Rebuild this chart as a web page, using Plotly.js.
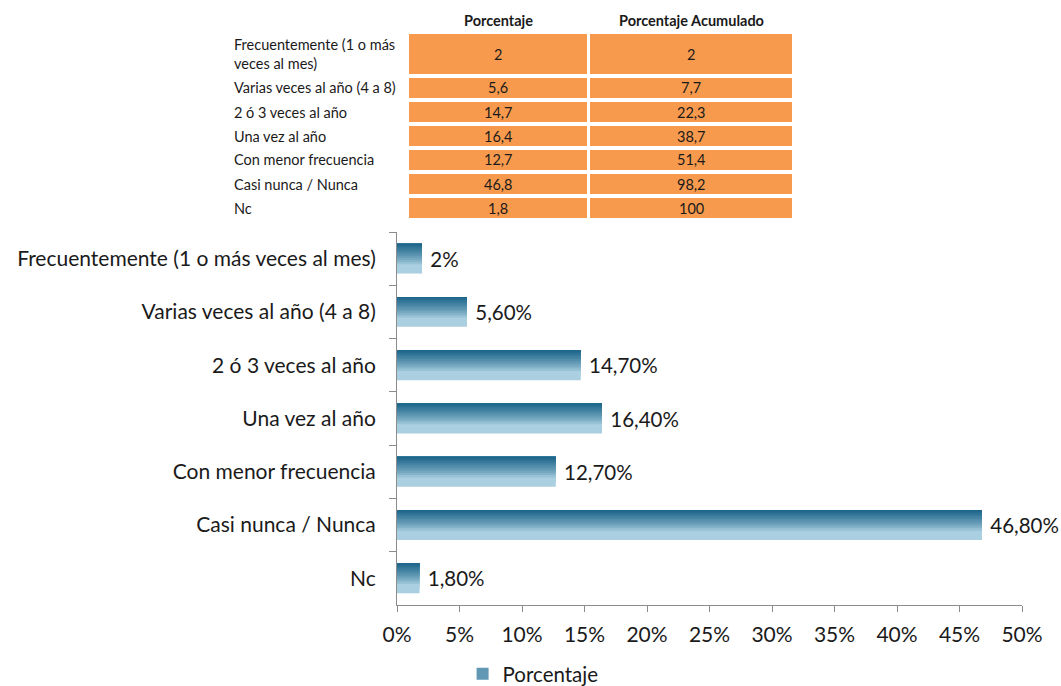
<!DOCTYPE html>
<html>
<head>
<meta charset="utf-8">
<script src="https://cdn.plot.ly/plotly-3.0.1.min.js"></script>
<style>html,body{margin:0;padding:0;background:#fff;}#chart{width:1061px;height:686px;}</style>
</head>
<body>
<div id="chart"></div>
<script>
// ---- Data ----
var categories = ["Frecuentemente (1 o más veces al mes)", "Varias veces al año (4 a 8)", "2 ó 3 veces al año", "Una vez al año", "Con menor frecuencia", "Casi nunca / Nunca", "Nc"];
var tableRowLabels = ["Frecuentemente (1 o más<br>veces al mes)", "Varias veces al año (4 a 8)", "2 ó 3 veces al año", "Una vez al año", "Con menor frecuencia", "Casi nunca / Nunca", "Nc"];
var porcentaje = [2, 5.6, 14.7, 16.4, 12.7, 46.8, 1.8];
var porcentajeTexto = ["2", "5,6", "14,7", "16,4", "12,7", "46,8", "1,8"];
var acumuladoTexto = ["2", "7,7", "22,3", "38,7", "51,4", "98,2", "100"];
var barLabels = ["2%", "5,60%", "14,70%", "16,40%", "12,70%", "46,80%", "1,80%"];
var tableHeaders = ["Porcentaje", "Porcentaje Acumulado"];
var xTickVals = [0, 5, 10, 15, 20, 25, 30, 35, 40, 45, 50];
var xTickText = ["0%", "5%", "10%", "15%", "20%", "25%", "30%", "35%", "40%", "45%", "50%"];
var seriesName = "Porcentaje";

// ---- Layout geometry (pixels) ----
var W = 1061, H = 686, MT = 5, MB = 81;
var PH = H - MT - MB;
function px(x) { return x / W; }
function py(y) { return (H - MB - y) / PH; }
var FONT = "Lato, 'Open Sans', sans-serif";
var ORANGE = "#F79A4E";

// table geometry
var labelX = 232;
var colX = [[409, 587], [590, 792]];
var headerY = 20;
var rowTops = [], rowBottoms = [];
tableRowLabels.forEach(function (_, i) {
  if (i === 0) { rowTops.push(34); rowBottoms.push(74); }
  else { rowTops.push(78 + 24 * (i - 1)); rowBottoms.push(98 + 24 * (i - 1)); }
});

var shapes = [], annotations = [];
var colValues = [porcentajeTexto, acumuladoTexto];
tableHeaders.forEach(function (h, c) {
  annotations.push({ xref: "paper", yref: "paper", x: px((colX[c][0] + colX[c][1]) / 2), y: py(headerY),
    text: "<b>" + h + "</b>", showarrow: false, xanchor: "center", yanchor: "middle",
    font: { family: FONT, size: 14.5, color: "#1a1a1a" } });
});
tableRowLabels.forEach(function (lab, r) {
  var yc = (rowTops[r] + rowBottoms[r]) / 2;
  annotations.push({ xref: "paper", yref: "paper", x: px(labelX), y: py(yc), text: lab, showarrow: false,
    xanchor: "left", yanchor: "middle", align: "left",
    font: { family: FONT, size: 14.5, color: "#1a1a1a" } });
  colValues.forEach(function (vals, c) {
    shapes.push({ type: "rect", xref: "paper", yref: "paper", x0: px(colX[c][0]), x1: px(colX[c][1]),
      y0: py(rowBottoms[r]), y1: py(rowTops[r]), fillcolor: ORANGE, line: { width: 0 }, layer: "below" });
    annotations.push({ xref: "paper", yref: "paper", x: px((colX[c][0] + colX[c][1]) / 2), y: py(yc),
      text: vals[r], showarrow: false, xanchor: "center", yanchor: "middle",
      font: { family: FONT, size: 14.5, color: "#1a1a1a" } });
  });
});

// ---- Bars (gradient simulated by stacked overlay layers) ----
var barWidth = 0.56;
var light = [170, 207, 224], dark = [24, 98, 136];
var fractions = [1, 0.88, 0.78, 0.69, 0.61, 0.54, 0.47, 0.41, 0.35, 0.29, 0.24, 0.19, 0.15, 0.11, 0.07, 0.04];
function mix(t) {
  var c = light.map(function (l, i) { return Math.round(l + (dark[i] - l) * t); });
  return "rgb(" + c.join(",") + ")";
}
var traces = [];
fractions.forEach(function (f, i) {
  var t = Math.pow(Math.max(0, 1 - f / 0.75), 0.8);
  var tr = {
    type: "bar", orientation: "h",
    y: categories, x: porcentaje,
    width: barWidth * f, offset: -barWidth / 2,
    marker: { color: mix(t) },
    hoverinfo: "skip", showlegend: false, name: seriesName
  };
  if (i === 0) {
    tr.text = barLabels.map(function (s) { return " " + s; });
    tr.textposition = "outside";
    tr.cliponaxis = false;
    tr.textfont = { family: FONT, size: 20.5, color: "#1a1a1a" };
  }
  traces.push(tr);
});
traces.push({
  type: "bar", orientation: "h", y: [categories[0]], x: [null],
  name: seriesName, marker: { color: mix(0.5) }, showlegend: true, hoverinfo: "skip"
});

var layout = {
  width: W, height: H,
  margin: { l: 0, r: 0, t: MT, b: MB, autoexpand: false },
  paper_bgcolor: "white", plot_bgcolor: "white",
  barmode: "overlay",
  font: { family: FONT, color: "#1a1a1a" },
  showlegend: true,
  legend: { orientation: "h", x: 0.436, y: py(674), xanchor: "left", yanchor: "middle",
            font: { family: FONT, size: 20.5, color: "#1a1a1a" } },
  shapes: shapes,
  annotations: annotations,
  xaxis: {
    domain: [px(397), px(1022)],
    range: [0, 50],
    tickvals: xTickVals, ticktext: xTickText,
    showgrid: false, zeroline: false,
    showline: true, linecolor: "#8c8c8c", linewidth: 1,
    ticks: "outside", ticklen: 6, tickcolor: "#8c8c8c",
    tickfont: { family: FONT, size: 21, color: "#1a1a1a" },
    ticklabelstandoff: 5,
    automargin: false
  },
  yaxis: {
    domain: [0, py(232)],
    type: "category",
    categoryorder: "array", categoryarray: categories,
    autorange: "reversed",
    showgrid: false, zeroline: false,
    showline: true, linecolor: "#8c8c8c", linewidth: 1,
    ticks: "outside", ticklen: 7, tickcolor: "#8c8c8c", tickson: "boundaries",
    tickfont: { family: FONT, size: 21, color: "#1a1a1a" },
    ticklabelstandoff: 16,
    automargin: false
  }
};

Plotly.newPlot("chart", traces, layout, { displayModeBar: false, staticPlot: true });
</script>
</body>
</html>
